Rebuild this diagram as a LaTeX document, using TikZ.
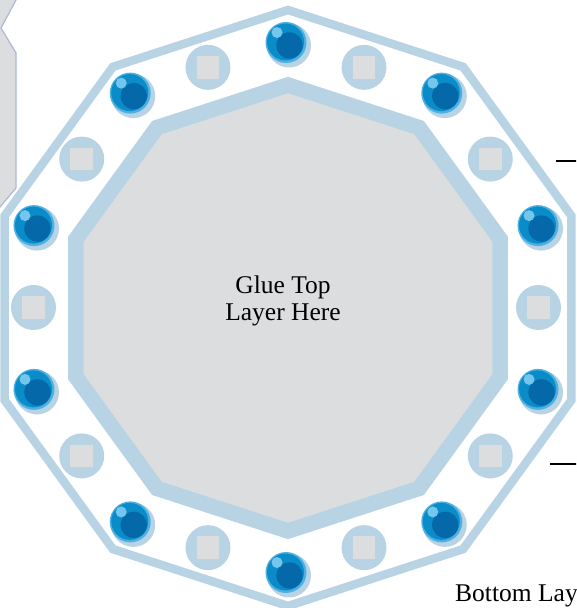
\documentclass[tikz,border=0pt]{standalone}
\usepackage{fontspec}
\setmainfont{Liberation Serif}
\definecolor{bandblue}{HTML}{B7D3E4}
\definecolor{gluegray}{HTML}{DCDDDF}
\definecolor{ringblue}{HTML}{4DB0E2}
\definecolor{mainblue}{HTML}{0A8CC9}
\definecolor{darkblue}{HTML}{0569A9}
\definecolor{hiliteblue}{HTML}{74C6EC}
\definecolor{edgepurple}{HTML}{AEB6DB}
\tikzset{
  outerband/.style={draw=bandblue, line width=8.5pt, line join=miter},
  innerband/.style={draw=bandblue, fill=gluegray, line width=15.5pt, line join=miter},
  leader/.style={draw=black, line width=1.8pt},
  labeltext/.style={inner sep=0pt, font=\fontsize{25.5}{27}\selectfont},
  ball/.pic={
    \fill[bandblue] (3pt,-3pt) circle[radius=22pt];
    \fill[ringblue] (0pt,0pt) circle[radius=20.5pt];
    \fill[mainblue] (-0.5pt,0.5pt) circle[radius=18.5pt];
    \fill[darkblue] (3.5pt,-3pt) circle[radius=13.2pt];
    \fill[hiliteblue] (-9pt,10pt) circle[radius=5.5pt];
  },
  squarehole/.pic={
    \fill[bandblue] (0pt,0pt) circle[radius=22.5pt];
    \fill[gluegray] (-11.3pt,-11.3pt) rectangle (11.3pt,11.3pt);
  }
}
\begin{document}
\begin{tikzpicture}[x=1pt,y=1pt]
\useasboundingbox (0,0) rectangle (576,608);
\clip (0,0) rectangle (576,608);
% partial neighbouring piece at top left
\path[fill=gluegray, draw=edgepurple, line width=1.2pt]
  (-10,618) -- (21.4,618) -- (1,580) -- (16,555) -- (16,420) -- (-10,389) -- cycle;
% outer band and glue area
\begin{scope}[shift={(288,300)}]
  \draw[outerband] (90:298pt) \foreach \a in {126,162,...,414}{ -- (\a:298pt)} -- cycle;
  \draw[innerband] (90:223pt) \foreach \a in {126,162,...,414}{ -- (\a:223pt)} -- cycle;
\end{scope}
% holes and balls
\begin{scope}[shift={(286,300.5)}]
  \foreach \a in {108,144,...,432} { \pic at (\a:252.5pt) {squarehole}; }
  \foreach \a in {90,126,...,414} { \pic at (\a:265pt) {ball}; }
\end{scope}
% texts
\node[labeltext, anchor=base] (gluea) at (283,314) {Glue Top};
\node[labeltext, anchor=base] (glueb) at (283,287) {Layer Here};
\node[labeltext, anchor=base west] (bottom) at (455,6.3) {Bottom Layer};
% leader lines at right edge
\coordinate (la) at (556,447);
\coordinate (lae) at (580,447);
\coordinate (lb) at (550,144);
\coordinate (lbe) at (580,144);
\draw[leader] (la) -- (lae);
\draw[leader] (lb) -- (lbe);
\end{tikzpicture}
\end{document}
